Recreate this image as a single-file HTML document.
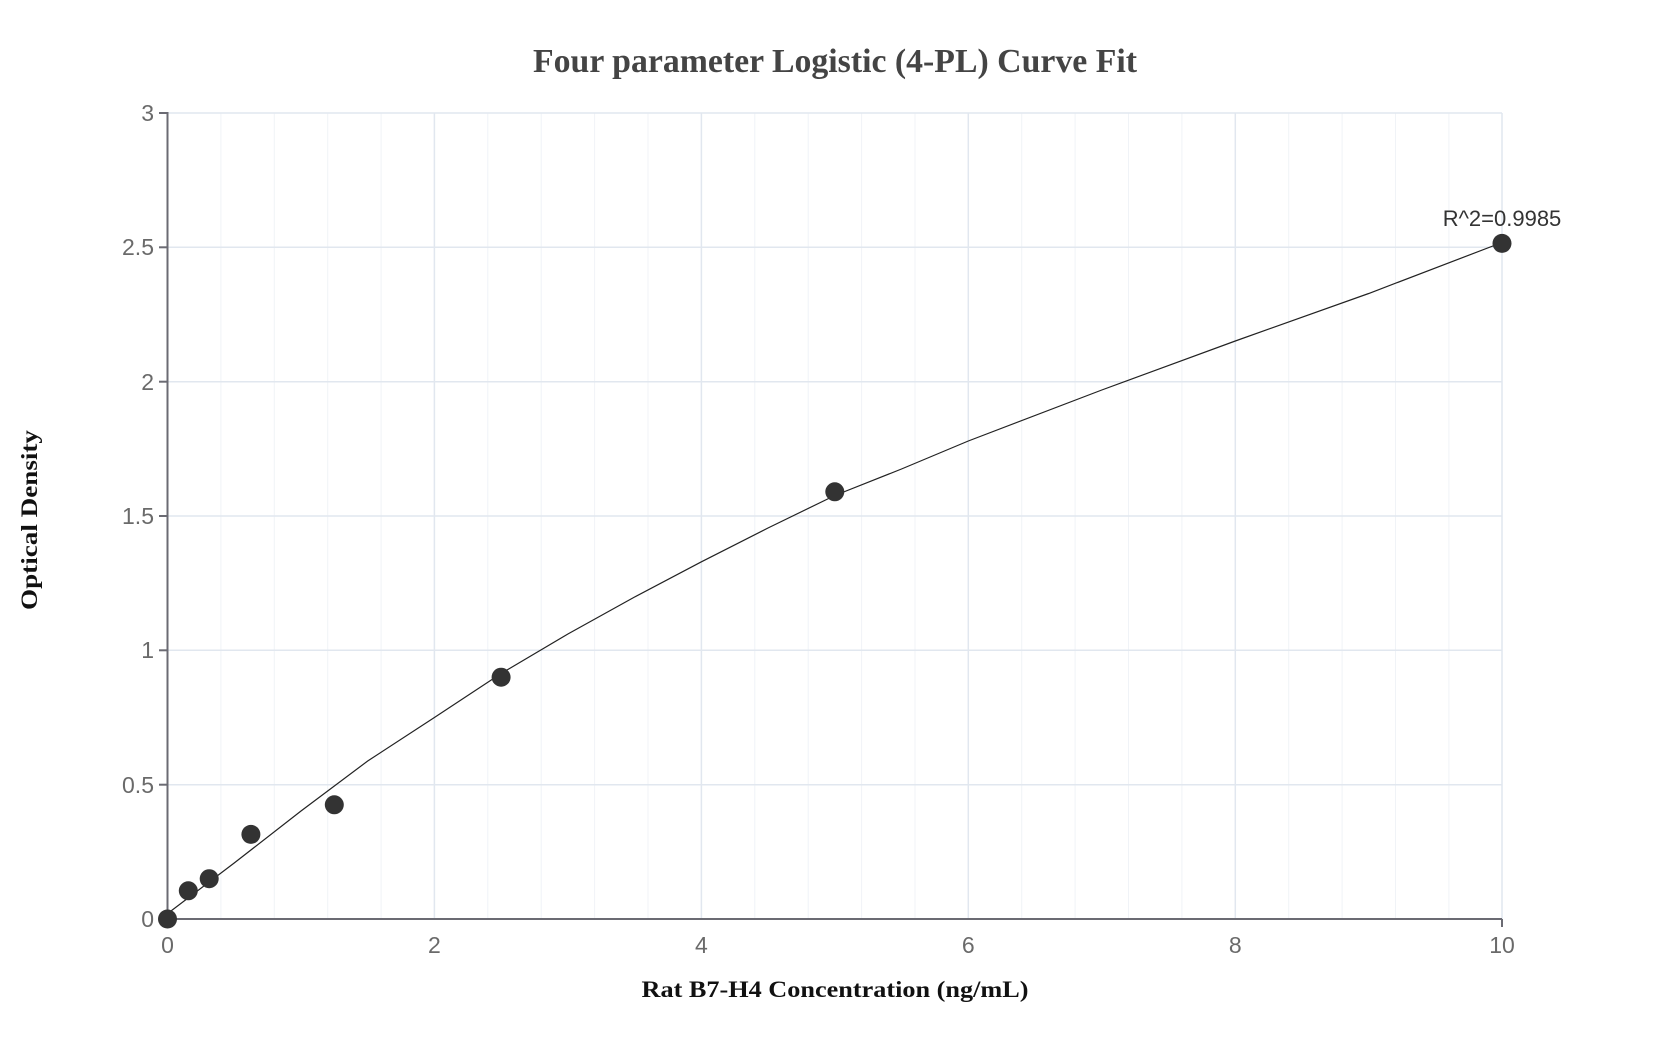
<!DOCTYPE html>
<html><head><meta charset="utf-8"><style>html,body{margin:0;padding:0;background:#fff}svg{display:block}</style></head>
<body>
<svg width="1668" height="1050" xmlns="http://www.w3.org/2000/svg">
<rect width="1668" height="1050" fill="#fff"/>
<g stroke="#f0f3f7" stroke-width="1">
<line x1="220.9" y1="113" x2="220.9" y2="919"/><line x1="274.3" y1="113" x2="274.3" y2="919"/><line x1="327.7" y1="113" x2="327.7" y2="919"/><line x1="381.1" y1="113" x2="381.1" y2="919"/>
<line x1="487.8" y1="113" x2="487.8" y2="919"/><line x1="541.2" y1="113" x2="541.2" y2="919"/><line x1="594.6" y1="113" x2="594.6" y2="919"/><line x1="648" y1="113" x2="648" y2="919"/>
<line x1="754.8" y1="113" x2="754.8" y2="919"/><line x1="808.2" y1="113" x2="808.2" y2="919"/><line x1="861.6" y1="113" x2="861.6" y2="919"/><line x1="915" y1="113" x2="915" y2="919"/>
<line x1="1021.7" y1="113" x2="1021.7" y2="919"/><line x1="1075.1" y1="113" x2="1075.1" y2="919"/><line x1="1128.5" y1="113" x2="1128.5" y2="919"/><line x1="1181.9" y1="113" x2="1181.9" y2="919"/>
<line x1="1288.7" y1="113" x2="1288.7" y2="919"/><line x1="1342.1" y1="113" x2="1342.1" y2="919"/><line x1="1395.5" y1="113" x2="1395.5" y2="919"/><line x1="1448.9" y1="113" x2="1448.9" y2="919"/>
</g>
<g stroke="#e1e7ef" stroke-width="1.5">
<line x1="434.4" y1="113" x2="434.4" y2="919"/><line x1="701.4" y1="113" x2="701.4" y2="919"/><line x1="968.3" y1="113" x2="968.3" y2="919"/><line x1="1235.3" y1="113" x2="1235.3" y2="919"/><line x1="1502" y1="113" x2="1502" y2="919"/>
<line x1="167.5" y1="113" x2="1502" y2="113"/><line x1="167.5" y1="247.3" x2="1502" y2="247.3"/><line x1="167.5" y1="381.7" x2="1502" y2="381.7"/><line x1="167.5" y1="516" x2="1502" y2="516"/><line x1="167.5" y1="650.3" x2="1502" y2="650.3"/><line x1="167.5" y1="784.7" x2="1502" y2="784.7"/>
</g>
<g stroke="#6b6b73" stroke-width="2">
<line x1="167.5" y1="112" x2="167.5" y2="920"/><line x1="167.5" y1="919" x2="1502" y2="919"/>
<line x1="159" y1="113" x2="167.5" y2="113"/><line x1="159" y1="247.3" x2="167.5" y2="247.3"/><line x1="159" y1="381.7" x2="167.5" y2="381.7"/><line x1="159" y1="516" x2="167.5" y2="516"/><line x1="159" y1="650.3" x2="167.5" y2="650.3"/><line x1="159" y1="784.7" x2="167.5" y2="784.7"/><line x1="159" y1="919" x2="167.5" y2="919"/>
<line x1="1502" y1="919" x2="1502" y2="927"/>
</g>
<g font-family="Liberation Sans, sans-serif" font-size="23" fill="#6a6a6a">
<g text-anchor="end"><text x="154" y="121">3</text><text x="154" y="255">2.5</text><text x="154" y="390">2</text><text x="154" y="524">1.5</text><text x="154" y="658">1</text><text x="154" y="793">0.5</text><text x="154" y="927">0</text></g>
<g text-anchor="middle"><text x="167.5" y="953">0</text><text x="434.4" y="953">2</text><text x="701.4" y="953">4</text><text x="968.3" y="953">6</text><text x="1235.3" y="953">8</text><text x="1502" y="953">10</text></g>
</g>
<polyline fill="none" stroke="#222" stroke-width="1.2" points="167.5,913.6 234.2,863 301,811 367.7,761 434.4,717.5 501.1,673.5 567.9,634 634.6,597 701.4,561.8 768,528 834.8,495.5 901.5,469 968.3,441 1101.8,390 1235.3,341 1368.7,293.5 1502,242.5"/>
<g fill="#333">
<circle cx="167.5" cy="919" r="9.5"/><circle cx="188.3" cy="890.8" r="9.5"/><circle cx="209.2" cy="878.7" r="9.5"/><circle cx="250.9" cy="834.4" r="9.5"/><circle cx="334.3" cy="804.8" r="9.5"/><circle cx="501.1" cy="677.2" r="9.5"/><circle cx="834.8" cy="491.8" r="9.5"/><circle cx="1502" cy="243.4" r="9.5"/>
</g>
<text x="1502" y="226" text-anchor="middle" font-family="Liberation Sans, sans-serif" font-size="22" fill="#333">R^2=0.9985</text>
<text x="835" y="72" text-anchor="middle" font-family="Liberation Serif, serif" font-weight="bold" font-size="34" fill="#444" textLength="604" lengthAdjust="spacingAndGlyphs">Four parameter Logistic (4-PL) Curve Fit</text>
<text x="835" y="997" text-anchor="middle" font-family="Liberation Serif, serif" font-weight="bold" font-size="23" fill="#111" textLength="387" lengthAdjust="spacingAndGlyphs">Rat B7-H4 Concentration (ng/mL)</text>
<text transform="translate(37,520) rotate(-90)" text-anchor="middle" font-family="Liberation Serif, serif" font-weight="bold" font-size="23" fill="#111" textLength="180" lengthAdjust="spacingAndGlyphs">Optical Density</text>
</svg>
</body></html>
